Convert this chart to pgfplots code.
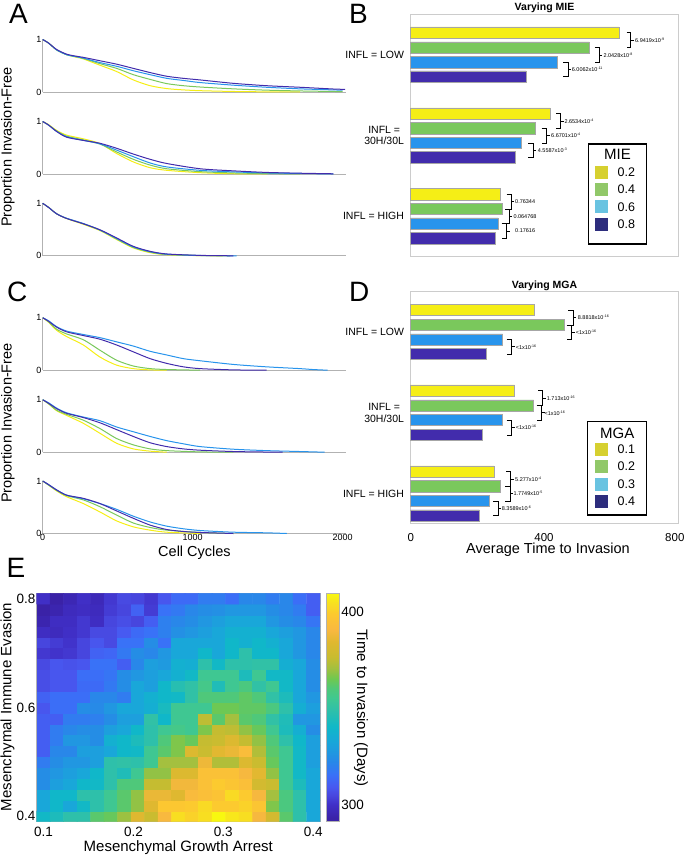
\documentclass[border=0pt]{standalone}
\usepackage{fontspec}
\setmainfont{Liberation Sans}
\usepackage{pgfplots}
\pgfplotsset{compat=1.18}
\definecolor{cY}{RGB}{245,238,22}
\definecolor{cG}{RGB}{122,200,92}
\definecolor{cB}{RGB}{40,148,236}
\definecolor{cP}{RGB}{66,44,172}
\definecolor{lY}{RGB}{214,208,48}
\definecolor{lG}{RGB}{145,200,105}
\definecolor{lB}{RGB}{105,195,225}
\definecolor{lP}{RGB}{45,45,125}
\newcommand{\fs}[1]{\fontsize{#1bp}{#1bp}\selectfont}
\newcommand{\pv}[2]{#1x10\raisebox{2bp}{\fs{3.6}#2}}
\newcommand{\brk}[7]{%
 \draw[line width=1bp] (axis cs:#1,#3) -- (axis cs:#2,#3) -- (axis cs:#2,#4) -- (axis cs:#1,#4);
 \draw[line width=1bp] (axis cs:#2,#5) -- ++(3bp,0pt);
 \node[anchor=west, inner sep=0pt, font=\fs{5.5}] at (axis cs:#6,#5) {#7};}
\pgfplotsset{
 every axis/.append style={/pgf/number format/assume math mode=true, /pgf/number format/1000 sep={}},
 every axis title/.style={at={(0.5,1)},anchor=south,inner sep=1bp},
 colormap={parref}{
  rgb255(0bp)=(58,34,165) rgb255(2bp)=(58,34,168) rgb255(9bp)=(64,48,200)
  rgb255(14bp)=(72,72,224) rgb255(18bp)=(72,88,240) rgb255(24bp)=(58,112,248)
  rgb255(31bp)=(40,136,232) rgb255(36bp)=(32,152,224) rgb255(42bp)=(24,168,216)
  rgb255(49bp)=(16,184,200) rgb255(58bp)=(48,192,168) rgb255(64bp)=(64,200,144)
  rgb255(69bp)=(80,200,120) rgb255(74bp)=(112,200,80) rgb255(79bp)=(160,192,64)
  rgb255(85bp)=(200,188,48) rgb255(93bp)=(224,184,48) rgb255(99bp)=(248,184,64)
  rgb255(107bp)=(252,200,48) rgb255(113bp)=(248,224,32) rgb255(118bp)=(248,248,16)},
 lineax/.style={scale only axis, width=303bp, height=52.5bp, xmin=0, xmax=2020, ymin=0, ymax=1,
  axis lines=left, axis line style={-, draw=black!30, line width=1bp},
  ytick={0,1}, xtick=\empty, major tick length=0pt,
  tick label style={font=\fs{9}, inner sep=1bp}, clip=false, anchor=north west},
 ln/.style={line width=1bp, smooth, tension=0.45},
 barax/.style={scale only axis, width=267.6bp, xmin=0, xmax=803, y dir=reverse,
  axis line style={draw=black!20, line width=1bp}, major tick length=0pt,
  anchor=north west, clip=false, yticklabel pos=left, xticklabel pos=left,
  yticklabel style={align=center, font=\fontsize{10.5bp}{11.5bp}\selectfont, inner sep=0pt, xshift=-6.5bp},
  title style={font=\fs{10.5}\bfseries}},
 hb/.style={xbar, bar width=11.5, bar shift=0pt, draw=black!35, line width=0.7bp},
}
\begin{document}
\begin{tikzpicture}
\path[use as bounding box] (0,0) rectangle (685bp,-856bp);
% panel letters
\node[font=\fs{28}, anchor=base west, inner sep=0pt] at (9bp,-23.3bp) {A};
\node[font=\fs{28}, anchor=base west, inner sep=0pt] at (349bp,-23.3bp) {B};
\node[font=\fs{28}, anchor=base west, inner sep=0pt] at (7bp,-301.5bp) {C};
\node[font=\fs{28}, anchor=base west, inner sep=0pt] at (349bp,-301.5bp) {D};
\node[font=\fs{28}, anchor=base west, inner sep=0pt] at (6.5bp,-577bp) {E};

% ---------- A1
\begin{axis}[lineax, at={(42.7bp,-39.5bp)}]
\addplot[ln, cY] coordinates {(0,1)(40,0.93)(93,0.80)(160,0.71)(227,0.66)(271,0.63)(382,0.51)(493,0.39)(604,0.23)(716,0.12)(827,0.065)(938,0.04)(1049,0.025)(1271,0.01)(1493,0.003)(1716,0)};
\addplot[ln, cG] coordinates {(0,1)(40,0.93)(93,0.80)(160,0.71)(227,0.67)(271,0.64)(382,0.54)(493,0.45)(604,0.33)(716,0.24)(827,0.16)(938,0.12)(1049,0.095)(1271,0.06)(1493,0.035)(1716,0.02)(1938,0.01)(2000,0.008)};
\addplot[ln, cB] coordinates {(0,1)(40,0.93)(93,0.80)(160,0.71)(227,0.67)(271,0.645)(382,0.56)(493,0.49)(604,0.405)(716,0.33)(827,0.26)(938,0.22)(1049,0.18)(1271,0.13)(1493,0.09)(1716,0.06)(1938,0.04)(2000,0.035)};
\addplot[ln, cP] coordinates {(0,1)(40,0.93)(93,0.81)(160,0.72)(227,0.68)(271,0.66)(382,0.595)(493,0.53)(604,0.45)(716,0.37)(827,0.30)(938,0.26)(1049,0.23)(1271,0.165)(1493,0.12)(1716,0.09)(1938,0.057)(2016,0.05)};
\end{axis}
% ---------- A2
\begin{axis}[lineax, at={(42.7bp,-121.5bp)}]
\addplot[ln, cY] coordinates {(0,1)(40,0.94)(93,0.83)(160,0.74)(271,0.67)(382,0.58)(493,0.39)(604,0.23)(716,0.12)(827,0.07)(1049,0.025)(1271,0.005)(1493,0)};
\addplot[ln, cG] coordinates {(0,1)(40,0.93)(93,0.82)(160,0.72)(271,0.65)(382,0.57)(493,0.42)(604,0.28)(716,0.17)(827,0.10)(1049,0.045)(1271,0.02)(1493,0.008)(1716,0)};
\addplot[ln, cB] coordinates {(0,1)(40,0.93)(93,0.81)(160,0.71)(271,0.64)(382,0.575)(493,0.455)(604,0.33)(716,0.21)(827,0.135)(1049,0.07)(1271,0.04)(1493,0.02)(1716,0.01)(1938,0)};
\addplot[ln, cP] coordinates {(0,1)(40,0.93)(93,0.81)(160,0.70)(271,0.64)(382,0.585)(493,0.49)(604,0.38)(716,0.28)(827,0.20)(1049,0.10)(1271,0.06)(1493,0.03)(1716,0.015)(1938,0.004)};
\end{axis}
% ---------- A3
\begin{axis}[lineax, at={(42.7bp,-203.3bp)}]
\addplot[ln, cY] coordinates {(0,1)(40,0.92)(93,0.80)(160,0.71)(271,0.60)(382,0.48)(493,0.31)(604,0.15)(716,0.06)(827,0.02)(1049,0.003)(1200,0)};
\addplot[ln, cG] coordinates {(0,1)(40,0.92)(93,0.80)(160,0.71)(271,0.61)(382,0.49)(493,0.32)(604,0.16)(716,0.07)(827,0.025)(1049,0.004)(1250,0)};
\addplot[ln, cB] coordinates {(0,1)(40,0.92)(93,0.80)(160,0.715)(271,0.615)(382,0.49)(493,0.33)(604,0.17)(716,0.078)(827,0.03)(1049,0.006)(1293,0)};
\addplot[ln, cP] coordinates {(0,1)(40,0.92)(93,0.80)(160,0.71)(271,0.61)(382,0.495)(493,0.34)(604,0.18)(716,0.085)(827,0.035)(1049,0.008)(1271,0)};
\end{axis}
% ---------- C1
\begin{axis}[lineax, at={(42.7bp,-317.7bp)}]
\addplot[ln, cY] coordinates {(0,1)(40,0.91)(93,0.76)(160,0.64)(271,0.48)(382,0.25)(493,0.096)(604,0.03)(716,0.006)(827,0)};
\addplot[ln, cG] coordinates {(0,1)(40,0.92)(93,0.78)(160,0.69)(271,0.58)(382,0.38)(493,0.19)(604,0.08)(716,0.03)(827,0.013)(1049,0)};
\addplot[ln, cB] coordinates {(0,1)(40,0.94)(93,0.83)(160,0.745)(271,0.68)(382,0.62)(493,0.54)(604,0.46)(716,0.36)(827,0.29)(938,0.22)(1049,0.18)(1271,0.11)(1493,0.064)(1716,0.03)(1800,0.013)(1900,0)};
\addplot[ln, cP] coordinates {(0,1)(40,0.93)(93,0.82)(160,0.73)(271,0.66)(382,0.59)(493,0.48)(604,0.35)(716,0.22)(827,0.13)(938,0.064)(1049,0.03)(1271,0.006)(1493,0)};
\end{axis}
% ---------- C2
\begin{axis}[lineax, at={(42.7bp,-399.7bp)}]
\addplot[ln, cY] coordinates {(0,1)(40,0.92)(93,0.79)(160,0.70)(271,0.55)(382,0.36)(493,0.17)(604,0.063)(716,0.02)(827,0)};
\addplot[ln, cG] coordinates {(0,1)(40,0.92)(93,0.80)(160,0.72)(271,0.61)(382,0.45)(493,0.26)(604,0.14)(716,0.063)(827,0.03)(1049,0.006)(1271,0)};
\addplot[ln, cB] coordinates {(0,1)(40,0.94)(93,0.84)(160,0.75)(271,0.67)(382,0.60)(493,0.48)(604,0.39)(716,0.30)(827,0.22)(938,0.16)(1049,0.107)(1271,0.057)(1493,0.03)(1716,0.013)(1880,0)};
\addplot[ln, cP] coordinates {(0,1)(40,0.93)(93,0.83)(160,0.74)(271,0.66)(382,0.56)(493,0.43)(604,0.30)(716,0.18)(827,0.107)(938,0.063)(1049,0.038)(1271,0.013)(1493,0.003)(1600,0)};
\end{axis}
% ---------- C3
\begin{axis}[lineax, at={(42.7bp,-481bp)}, xtick={0,1000,2000}]
\addplot[ln, cY] coordinates {(0,1)(40,0.92)(93,0.81)(160,0.70)(271,0.57)(382,0.41)(493,0.24)(604,0.127)(716,0.064)(827,0.025)(1049,0)};
\addplot[ln, cG] coordinates {(0,1)(40,0.92)(93,0.82)(160,0.72)(271,0.64)(382,0.51)(493,0.35)(604,0.20)(716,0.115)(827,0.064)(1049,0.02)(1271,0)};
\addplot[ln, cB] coordinates {(0,1)(40,0.93)(93,0.83)(160,0.73)(271,0.66)(382,0.57)(493,0.46)(604,0.33)(716,0.22)(827,0.14)(938,0.09)(1049,0.057)(1271,0.025)(1493,0.013)(1627,0)};
\addplot[ln, cP] coordinates {(0,1)(40,0.93)(93,0.83)(160,0.73)(271,0.67)(382,0.57)(493,0.43)(604,0.29)(716,0.16)(827,0.076)(938,0.038)(1049,0.02)(1271,0)};
\end{axis}

% ---------- B
\begin{axis}[barax, at={(410.7bp,-14.3bp)}, height=242.4bp, ymin=14.3, ymax=256.7,
  xtick=\empty, ytick={54.7,135.5,216.3},
  yticklabels={INFL = LOW,{INFL =\\30H/30L},INFL = HIGH}, title={Varying MIE}]
\addplot[hb, fill=cY] coordinates {(625,32.7) (418,113.7) (270,194.3)};
\addplot[hb, fill=cG] coordinates {(536,47.7) (375,128.3) (276,209)};
\addplot[hb, fill=cB] coordinates {(441,62.3) (333,143) (262,223.7)};
\addplot[hb, fill=cP] coordinates {(346,76.7) (313,157.3) (254,238.3)};
\brk{648}{660}{32.7}{47.7}{40.2}{673}{\pv{6.9419}{-9}}
\brk{553}{566}{47.7}{62.3}{55}{578}{\pv{2.0428}{-8}}
\brk{458}{473}{62.3}{76.7}{69.5}{483}{\pv{6.0062}{-11}}
\brk{436}{450}{113.7}{128.3}{121}{461}{\pv{2.6534}{-4}}
\brk{393}{408}{128.3}{143}{135.7}{421}{\pv{6.6701}{-4}}
\brk{353}{368}{143}{157.3}{150.2}{381}{\pv{4.5587}{-3}}
\brk{288}{301}{194.3}{209}{201.7}{313}{0.76344}
\brk{283}{296}{209}{223.7}{216.3}{308}{0.064768}
\brk{273}{288}{223.7}{238.3}{231}{313}{0.17616}
\end{axis}

% ---------- D
\begin{axis}[barax, at={(410.7bp,-291.7bp)}, height=231.6bp, ymin=291.7, ymax=523.3,
  xtick={0,400,800}, xticklabels={0,400,{\hspace*{-5bp}800}},
  xticklabel style={font=\fs{11.5}, inner sep=1bp, yshift=-9bp},
  ytick={332,412.9,493.7},
  yticklabels={INFL = LOW,{INFL =\\30H/30L},INFL = HIGH}, title={Varying MGA}]
\addplot[hb, fill=cY] coordinates {(371,310) (312,390.7) (250,471.7)};
\addplot[hb, fill=cG] coordinates {(460,325) (369,405.7) (270,486.3)};
\addplot[hb, fill=cB] coordinates {(276,339.7) (275,420) (237,501)};
\addplot[hb, fill=cP] coordinates {(226,354) (215,435) (206,515.7)};
\brk{473}{488}{310}{325}{317.5}{501}{\pv{8.8818}{-16}}
\brk{468}{483}{325}{339.7}{332.3}{495}{\pv{<1}{-16}}
\brk{288}{303}{339.7}{354}{346.8}{315}{\pv{<1}{-16}}
\brk{383}{396}{390.7}{405.7}{398.2}{408}{\pv{1.713}{-16}}
\brk{378}{393}{405.7}{420}{412.8}{401}{\pv{<1}{-16}}
\brk{288}{303}{420}{435}{427.5}{315}{\pv{<1}{-16}}
\brk{286}{300}{471.7}{486.3}{479}{313}{\pv{5.277}{-4}}
\brk{283}{298}{486.3}{501}{493.7}{308}{\pv{1.7749}{-5}}
\brk{248}{263}{501}{515.7}{508.3}{273}{\pv{8.3589}{-6}}
\end{axis}

% ---------- E heatmap
\begin{axis}[scale only axis, at={(36.7bp,-593.3bp)}, anchor=north west, width=283.3bp, height=228.4bp,
  xmin=0.0925, xmax=0.4075, ymin=0.39, ymax=0.81, enlargelimits=false,
  xtick={0.1,0.2,0.3,0.4}, ytick={0.4,0.6,0.8}, major tick length=0pt,
  axis line style={draw=black!30, line width=1bp},
  tick label style={font=\fs{13.5}, inner sep=1bp},
  xticklabel style={yshift=-4bp},
  xticklabel style={/pgf/number format/fixed, /pgf/number format/precision=1},
  colormap name=parref, point meta min=291.4, point meta max=409.5,
  colorbar, colorbar shift/.style={xshift=2.7bp}, colorbar/width=13.3bp,
  colorbar style={ytick={300,400}, major tick length=0pt,
    axis line style={draw=black!30, line width=1bp},
    yticklabel style={font=\fs{13.5}, inner sep=1.5bp},
    /pgf/number format/assume math mode=true}]
\addplot[matrix plot*, mesh/cols=21, point meta=explicit] coordinates {
(0.1,0.40)[341] (0.115,0.40)[344] (0.13,0.40)[349] (0.145,0.40)[349] (0.16,0.40)[362] (0.175,0.40)[364] (0.19,0.40)[370] (0.205,0.40)[384] (0.22,0.40)[377] (0.235,0.40)[391] (0.25,0.40)[404] (0.265,0.40)[401] (0.28,0.40)[404] (0.295,0.40)[410] (0.31,0.40)[406] (0.325,0.40)[404] (0.34,0.40)[390] (0.355,0.40)[380] (0.37,0.40)[362] (0.385,0.40)[349] (0.4,0.40)[333]
(0.1,0.42)[333] (0.115,0.42)[340] (0.13,0.42)[333] (0.145,0.42)[341] (0.16,0.42)[349] (0.175,0.42)[355] (0.19,0.42)[362] (0.205,0.42)[369] (0.22,0.42)[384] (0.235,0.42)[398] (0.25,0.42)[398] (0.265,0.42)[399] (0.28,0.42)[403] (0.295,0.42)[399] (0.31,0.42)[399] (0.325,0.42)[401] (0.34,0.42)[397] (0.355,0.42)[367] (0.37,0.42)[359] (0.385,0.42)[349] (0.4,0.42)[333]
(0.1,0.44)[333] (0.115,0.44)[340] (0.13,0.44)[340] (0.145,0.44)[349] (0.16,0.44)[349] (0.175,0.44)[355] (0.19,0.44)[362] (0.205,0.44)[369] (0.22,0.44)[387] (0.235,0.44)[387] (0.25,0.44)[384] (0.265,0.44)[392] (0.28,0.44)[394] (0.295,0.44)[396] (0.31,0.44)[403] (0.325,0.44)[399] (0.34,0.44)[390] (0.355,0.44)[371] (0.37,0.44)[359] (0.385,0.44)[349] (0.4,0.44)[333]
(0.1,0.46)[324] (0.115,0.46)[330] (0.13,0.46)[333] (0.145,0.46)[340] (0.16,0.46)[341] (0.175,0.46)[349] (0.19,0.46)[360] (0.205,0.46)[360] (0.22,0.46)[376] (0.235,0.46)[376] (0.25,0.46)[389] (0.265,0.46)[389] (0.28,0.46)[395] (0.295,0.46)[399] (0.31,0.46)[397] (0.325,0.46)[394] (0.34,0.46)[380] (0.355,0.46)[377] (0.37,0.46)[355] (0.385,0.46)[344] (0.4,0.46)[333]
(0.1,0.48)[324] (0.115,0.48)[327] (0.13,0.48)[330] (0.145,0.48)[333] (0.16,0.48)[340] (0.175,0.48)[349] (0.19,0.48)[345] (0.205,0.48)[355] (0.22,0.48)[369] (0.235,0.48)[369] (0.25,0.48)[383] (0.265,0.48)[383] (0.28,0.48)[395] (0.295,0.48)[395] (0.31,0.48)[395] (0.325,0.48)[390] (0.34,0.48)[385] (0.355,0.48)[369] (0.37,0.48)[355] (0.385,0.48)[341] (0.4,0.48)[333]
(0.1,0.50)[319] (0.115,0.50)[324] (0.13,0.50)[327] (0.145,0.50)[327] (0.16,0.50)[330] (0.175,0.50)[349] (0.19,0.50)[350] (0.205,0.50)[349] (0.22,0.50)[355] (0.235,0.50)[371] (0.25,0.50)[371] (0.265,0.50)[371] (0.28,0.50)[388] (0.295,0.50)[373] (0.31,0.50)[373] (0.325,0.50)[383] (0.34,0.50)[377] (0.355,0.50)[364] (0.37,0.50)[355] (0.385,0.50)[341] (0.4,0.50)[330]
(0.1,0.52)[311] (0.115,0.52)[322] (0.13,0.52)[322] (0.145,0.52)[330] (0.16,0.52)[330] (0.175,0.52)[333] (0.19,0.52)[340] (0.205,0.52)[341] (0.22,0.52)[355] (0.235,0.52)[362] (0.25,0.52)[367] (0.265,0.52)[383] (0.28,0.52)[377] (0.295,0.52)[385] (0.31,0.52)[387] (0.325,0.52)[393] (0.34,0.52)[373] (0.355,0.52)[362] (0.37,0.52)[355] (0.385,0.52)[341] (0.4,0.52)[330]
(0.1,0.54)[311] (0.115,0.54)[319] (0.13,0.54)[327] (0.145,0.54)[327] (0.16,0.54)[324] (0.175,0.54)[337] (0.19,0.54)[340] (0.205,0.54)[344] (0.22,0.54)[349] (0.235,0.54)[360] (0.25,0.54)[367] (0.265,0.54)[364] (0.28,0.54)[376] (0.295,0.54)[377] (0.31,0.54)[383] (0.325,0.54)[376] (0.34,0.54)[369] (0.355,0.54)[360] (0.37,0.54)[349] (0.385,0.54)[340] (0.4,0.54)[330]
(0.1,0.56)[311] (0.115,0.56)[319] (0.13,0.56)[322] (0.145,0.56)[324] (0.16,0.56)[324] (0.175,0.56)[330] (0.19,0.56)[333] (0.205,0.56)[340] (0.22,0.56)[349] (0.235,0.56)[355] (0.25,0.56)[357] (0.265,0.56)[355] (0.28,0.56)[367] (0.295,0.56)[376] (0.31,0.56)[375] (0.325,0.56)[369] (0.34,0.56)[364] (0.355,0.56)[355] (0.37,0.56)[344] (0.385,0.56)[336] (0.4,0.56)[324]
(0.1,0.58)[311] (0.115,0.58)[311] (0.13,0.58)[319] (0.145,0.58)[319] (0.16,0.58)[320] (0.175,0.58)[324] (0.19,0.58)[330] (0.205,0.58)[330] (0.22,0.58)[350] (0.235,0.58)[340] (0.25,0.58)[355] (0.265,0.58)[355] (0.28,0.58)[375] (0.295,0.58)[362] (0.31,0.58)[371] (0.325,0.58)[362] (0.34,0.58)[360] (0.355,0.58)[350] (0.37,0.58)[345] (0.385,0.58)[327] (0.4,0.58)[327]
(0.1,0.60)[309] (0.115,0.60)[315] (0.13,0.60)[315] (0.145,0.60)[324] (0.16,0.60)[323] (0.175,0.60)[327] (0.19,0.60)[333] (0.205,0.60)[333] (0.22,0.60)[336] (0.235,0.60)[343] (0.25,0.60)[355] (0.265,0.60)[355] (0.28,0.60)[355] (0.295,0.60)[365] (0.31,0.60)[365] (0.325,0.60)[363] (0.34,0.60)[363] (0.355,0.60)[359] (0.37,0.60)[349] (0.385,0.60)[336] (0.4,0.60)[330]
(0.1,0.62)[312] (0.115,0.62)[315] (0.13,0.62)[315] (0.145,0.62)[315] (0.16,0.62)[322] (0.175,0.62)[322] (0.19,0.62)[319] (0.205,0.62)[333] (0.22,0.62)[337] (0.235,0.62)[340] (0.25,0.62)[341] (0.265,0.62)[350] (0.28,0.62)[360] (0.295,0.62)[360] (0.31,0.62)[360] (0.325,0.62)[363] (0.34,0.62)[360] (0.355,0.62)[350] (0.37,0.62)[344] (0.385,0.62)[333] (0.4,0.62)[327]
(0.1,0.64)[307] (0.115,0.64)[309] (0.13,0.64)[309] (0.145,0.64)[314] (0.16,0.64)[314] (0.175,0.64)[318] (0.19,0.64)[324] (0.205,0.64)[333] (0.22,0.64)[330] (0.235,0.64)[340] (0.25,0.64)[347] (0.265,0.64)[350] (0.28,0.64)[357] (0.295,0.64)[345] (0.31,0.64)[355] (0.325,0.64)[359] (0.34,0.64)[350] (0.355,0.64)[355] (0.37,0.64)[341] (0.385,0.64)[333] (0.4,0.64)[324]
(0.1,0.66)[307] (0.115,0.66)[309] (0.13,0.66)[309] (0.145,0.66)[315] (0.16,0.66)[315] (0.175,0.66)[317] (0.19,0.66)[324] (0.205,0.66)[327] (0.22,0.66)[330] (0.235,0.66)[333] (0.25,0.66)[337] (0.265,0.66)[341] (0.28,0.66)[355] (0.295,0.66)[355] (0.31,0.66)[355] (0.325,0.66)[344] (0.34,0.66)[355] (0.355,0.66)[341] (0.37,0.66)[341] (0.385,0.66)[333] (0.4,0.66)[324]
(0.1,0.68)[306] (0.115,0.68)[309] (0.13,0.68)[308] (0.145,0.68)[309] (0.16,0.68)[316] (0.175,0.68)[316] (0.19,0.68)[311] (0.205,0.68)[322] (0.22,0.68)[330] (0.235,0.68)[328] (0.25,0.68)[337] (0.265,0.68)[336] (0.28,0.68)[349] (0.295,0.68)[341] (0.31,0.68)[349] (0.325,0.68)[349] (0.34,0.68)[350] (0.355,0.68)[350] (0.37,0.68)[336] (0.385,0.68)[333] (0.4,0.68)[324]
(0.1,0.70)[302] (0.115,0.70)[301] (0.13,0.70)[302] (0.145,0.70)[305] (0.16,0.70)[312] (0.175,0.70)[313] (0.19,0.70)[318] (0.205,0.70)[324] (0.22,0.70)[322] (0.235,0.70)[327] (0.25,0.70)[333] (0.265,0.70)[333] (0.28,0.70)[340] (0.295,0.70)[333] (0.31,0.70)[340] (0.325,0.70)[349] (0.34,0.70)[340] (0.355,0.70)[340] (0.37,0.70)[333] (0.385,0.70)[327] (0.4,0.70)[322]
(0.1,0.72)[305] (0.115,0.72)[303] (0.13,0.72)[301] (0.145,0.72)[305] (0.16,0.72)[309] (0.175,0.72)[306] (0.19,0.72)[316] (0.205,0.72)[316] (0.22,0.72)[324] (0.235,0.72)[316] (0.25,0.72)[333] (0.265,0.72)[333] (0.28,0.72)[333] (0.295,0.72)[333] (0.31,0.72)[340] (0.325,0.72)[337] (0.34,0.72)[340] (0.355,0.72)[337] (0.37,0.72)[333] (0.385,0.72)[327] (0.4,0.72)[322]
(0.1,0.74)[299] (0.115,0.74)[298] (0.13,0.74)[300] (0.145,0.74)[302] (0.16,0.74)[306] (0.175,0.74)[306] (0.19,0.74)[310] (0.205,0.74)[314] (0.22,0.74)[316] (0.235,0.74)[320] (0.25,0.74)[325] (0.265,0.74)[327] (0.28,0.74)[330] (0.295,0.74)[333] (0.31,0.74)[337] (0.325,0.74)[337] (0.34,0.74)[337] (0.355,0.74)[333] (0.37,0.74)[330] (0.385,0.74)[327] (0.4,0.74)[322]
(0.1,0.76)[295] (0.115,0.76)[299] (0.13,0.76)[299] (0.145,0.76)[302] (0.16,0.76)[299] (0.175,0.76)[305] (0.19,0.76)[307] (0.205,0.76)[305] (0.22,0.76)[311] (0.235,0.76)[320] (0.25,0.76)[322] (0.265,0.76)[324] (0.28,0.76)[327] (0.295,0.76)[330] (0.31,0.76)[333] (0.325,0.76)[333] (0.34,0.76)[333] (0.355,0.76)[327] (0.37,0.76)[324] (0.385,0.76)[322] (0.4,0.76)[317]
(0.1,0.78)[293] (0.115,0.78)[295] (0.13,0.78)[298] (0.145,0.78)[299] (0.16,0.78)[298] (0.175,0.78)[303] (0.19,0.78)[305] (0.205,0.78)[312] (0.22,0.78)[303] (0.235,0.78)[316] (0.25,0.78)[318] (0.265,0.78)[322] (0.28,0.78)[324] (0.295,0.78)[325] (0.31,0.78)[327] (0.325,0.78)[327] (0.34,0.78)[327] (0.355,0.78)[324] (0.37,0.78)[322] (0.385,0.78)[319] (0.4,0.78)[311]
(0.1,0.80)[300] (0.115,0.80)[293] (0.13,0.80)[296] (0.145,0.80)[300] (0.16,0.80)[297] (0.175,0.80)[302] (0.19,0.80)[306] (0.205,0.80)[305] (0.22,0.80)[302] (0.235,0.80)[309] (0.25,0.80)[314] (0.265,0.80)[314] (0.28,0.80)[319] (0.295,0.80)[319] (0.31,0.80)[315] (0.325,0.80)[322] (0.34,0.80)[322] (0.355,0.80)[319] (0.37,0.80)[322] (0.385,0.80)[315] (0.4,0.80)[311]
};
\end{axis}

% legends
\draw[black, line width=1.2bp, fill=white] (588.3bp,-144bp) rectangle (646.7bp,-244bp);
\node[font=\fs{15}, inner sep=0pt] at (617.5bp,-154.5bp) {MIE};
\fill[lY] (595bp,-165.5bp) rectangle (608.3bp,-178.5bp);
\fill[lG] (595bp,-182.7bp) rectangle (608.3bp,-195.7bp);
\fill[lB] (595bp,-200.2bp) rectangle (608.3bp,-213.2bp);
\fill[lP] (595bp,-217.8bp) rectangle (608.3bp,-230.8bp);
\node[font=\fs{12.5}, anchor=west, inner sep=0pt] at (617.5bp,-172bp) {0.2};
\node[font=\fs{12.5}, anchor=west, inner sep=0pt] at (617.5bp,-189.2bp) {0.4};
\node[font=\fs{12.5}, anchor=west, inner sep=0pt] at (617.5bp,-206.7bp) {0.6};
\node[font=\fs{12.5}, anchor=west, inner sep=0pt] at (617.5bp,-224.3bp) {0.8};

\draw[black, line width=1.2bp, fill=white] (587.7bp,-421.5bp) rectangle (646.7bp,-515bp);
\node[font=\fs{15}, inner sep=0pt] at (617.2bp,-433bp) {MGA};
\fill[lY] (595bp,-442.5bp) rectangle (608.3bp,-455.5bp);
\fill[lG] (595bp,-460bp) rectangle (608.3bp,-473bp);
\fill[lB] (595bp,-477.5bp) rectangle (608.3bp,-490.5bp);
\fill[lP] (595bp,-495bp) rectangle (608.3bp,-508bp);
\node[font=\fs{12.5}, anchor=west, inner sep=0pt] at (617.5bp,-449bp) {0.1};
\node[font=\fs{12.5}, anchor=west, inner sep=0pt] at (617.5bp,-466.5bp) {0.2};
\node[font=\fs{12.5}, anchor=west, inner sep=0pt] at (617.5bp,-484bp) {0.3};
\node[font=\fs{12.5}, anchor=west, inner sep=0pt] at (617.5bp,-501.5bp) {0.4};

% axis labels
\node[rotate=90, font=\fs{14.5}] at (8bp,-147bp) {Proportion Invasion-Free};
\node[rotate=90, font=\fs{14.5}] at (8bp,-423bp) {Proportion Invasion-Free};
\node[font=\fs{14.5}] at (194.5bp,-553bp) {Cell Cycles};
\node[font=\fs{14.5}] at (548bp,-550bp) {Average Time to Invasion};
\node[rotate=90, font=\fs{15}] at (7.5bp,-707bp) {Mesenchymal Immune Evasion};
\node[font=\fs{15}] at (178.3bp,-848bp) {Mesenchymal Growth Arrest};
\node[rotate=-90, font=\fs{15}] at (361bp,-708bp) {Time to Invasion (Days)};
\end{tikzpicture}
\end{document}
